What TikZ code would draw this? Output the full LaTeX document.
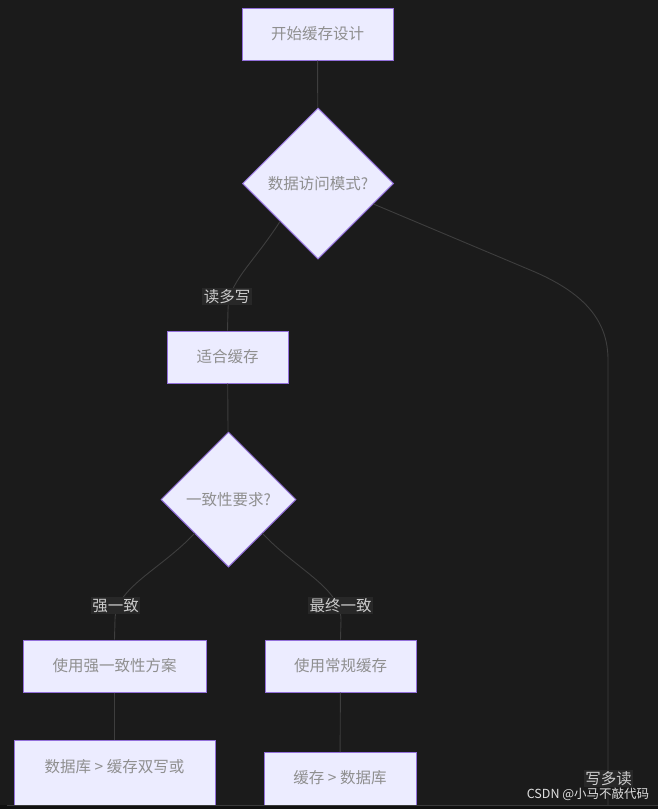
\documentclass[tikz,border=0pt]{standalone}
\usepackage{fontspec}
\setmainfont{Noto Sans CJK SC}
\usetikzlibrary{shapes.geometric,calc}
\definecolor{bgcol}{HTML}{1B1B1B}
\definecolor{nodefill}{HTML}{ECECFF}
\definecolor{nodeborder}{HTML}{9370DB}
\definecolor{nodetext}{HTML}{8F8F8F}
\definecolor{edgecol}{HTML}{3E3E3E}
\definecolor{labelbg}{HTML}{282828}
\definecolor{labeltext}{HTML}{CCCCCC}
\definecolor{stripcol}{HTML}{111111}
\definecolor{striplinecol}{HTML}{3A3A3A}
\tikzset{
  box/.style={draw=nodeborder, fill=nodefill, line width=1pt, inner sep=0pt, text=nodetext, font=\fontsize{15.5}{18}\selectfont},
  dia/.style={diamond, aspect=1, draw=nodeborder, fill=nodefill, line width=1pt, inner sep=0pt, text=nodetext, font=\fontsize{15.5}{18}\selectfont},
  ntext/.style={inner sep=0pt, text=nodetext, font=\fontsize{15.5}{18}\selectfont},
  elabel/.style={fill=labelbg, text=labeltext, inner sep=1.5pt, font=\fontsize{15.5}{17}\selectfont},
  edge/.style={draw=edgecol, line width=0.9pt}
}
\begin{document}
\begin{tikzpicture}[x=1pt,y=-1pt]
\fill[bgcol] (0,0) rectangle (658,809);
\useasboundingbox (0,0) rectangle (658,809);

% nodes
\node[box, minimum width=151, minimum height=52] (start) at (317.5,34) {开始缓存设计};
\node[dia, minimum width=151, minimum height=151] (d1) at (318,183.5) {数据访问模式?};
\node[box, minimum width=121, minimum height=52] (fit) at (227.5,357) {适合缓存};
\node[dia, minimum width=135, minimum height=135] (d2) at (228.5,499.5) {一致性要求?};
\node[box, minimum width=183, minimum height=52] (strong) at (114.5,666) {使用强一致性方案};
\node[box, minimum width=151, minimum height=52] (normal) at (340.5,666) {使用常规缓存};
\node[box, minimum width=201, minimum height=75, anchor=north] (dual) at (114.5,740) {};
\node[ntext] (dualt) at (114.5,766.5) {数据库 > 缓存双写或};
\node[box, minimum width=152, minimum height=55, anchor=north] (cache) at (340,752) {};
\node[ntext] (cachet) at (340,777.5) {缓存 > 数据库};

% connectors
\coordinate (wend) at (608,805);
\draw[edge] (start) -- (d1);
\draw[edge] (d1.south west) .. controls (252,265) and (228,282) .. (228,310) -- (fit.north);
\draw[edge] (fit) -- (d2);
\draw[edge] (d2.south west) .. controls (160,570) and (115,588) .. (115,620) -- (strong.north);
\draw[edge] (d2.south east) .. controls (297,570) and (341,588) .. (341,620) -- (normal.north);
\draw[edge] (strong) -- (dual);
\draw[edge] (normal) -- (cache);
\draw[edge] ($(d1.east)!0.27!(d1.south)$) -- (535,272) .. controls (590,296) and (608,325) .. (608,360) -- (wend);

% edge labels
\node[elabel] (l1) at (227,296.5) {读多写};
\node[elabel] (l2) at (115.5,605.5) {强一致};
\node[elabel] (l3) at (340.5,605.5) {最终一致};
\node[elabel] (l4) at (608.5,778.5) {写多读};

% bottom strip
\fill[stripcol] (0,805) rectangle (658,809);
\draw[striplinecol, line width=1pt] (7,805) -- (658,805);

% watermark
\node[text=white!88!black, inner sep=0pt, font=\fontsize{12.5}{14}\selectfont] (wm) at (588,794) {CSDN @小马不敲代码};
\end{tikzpicture}
\end{document}
